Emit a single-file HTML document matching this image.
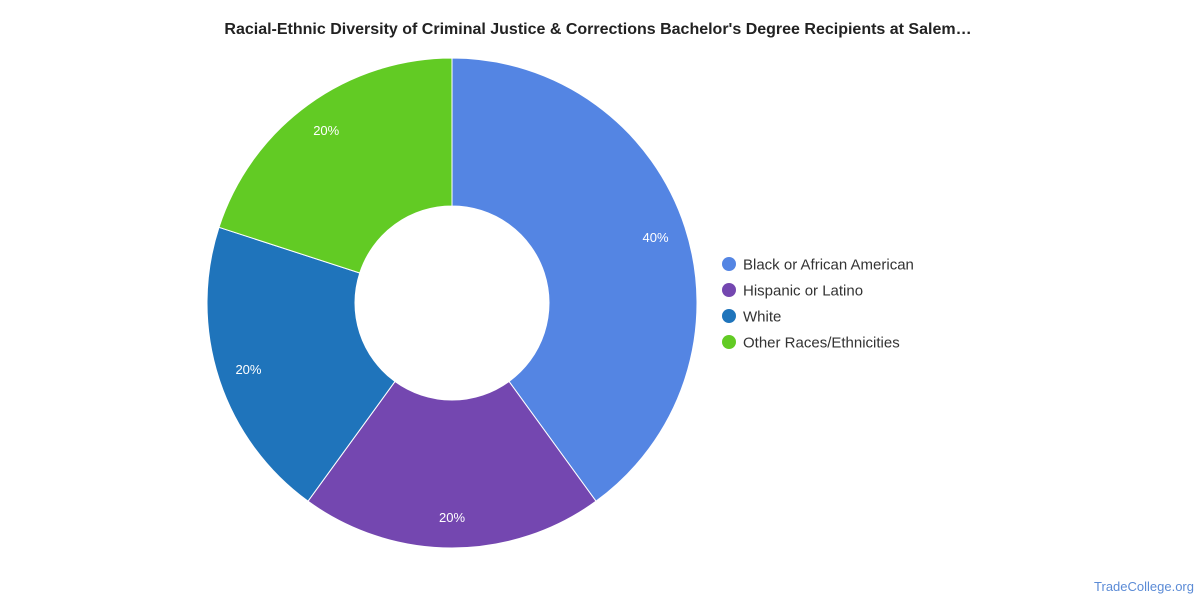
<!DOCTYPE html>
<html><head><meta charset="utf-8"><style>
body{margin:0;background:#fff;width:1200px;height:600px;overflow:hidden;font-family:"Liberation Sans",sans-serif}
</style></head><body>
<svg id="chart" width="1200" height="600">
<text x="598" y="34" text-anchor="middle" font-size="16" font-weight="bold" fill="#222">Racial-Ethnic Diversity of Criminal Justice &amp; Corrections Bachelor's Degree Recipients at Salem…</text>
<g id="slices"></g><g id="labels"></g><g id="legend"></g>
<text x="1194" y="591" text-anchor="end" font-size="13" fill="#5b8bd6">TradeCollege.org</text>
</svg>
<script>
const categories=["Black or African American","Hispanic or Latino","White","Other Races/Ethnicities"];
const values=[40,20,20,20];
const labels=["40%","20%","20%","20%"];
const colors=["#5485e3","#7447b0","#1f74bb","#62cb24"];
const NS="http://www.w3.org/2000/svg";
const cx=452,cy=303,R=245,r=97,LR=214;
const total=values.reduce((a,b)=>a+b,0);
function pt(a,rad){return [cx+rad*Math.sin(a),cy-rad*Math.cos(a)];}
let a0=0;
const gS=document.getElementById('slices'),gL=document.getElementById('labels'),gLeg=document.getElementById('legend');
values.forEach((v,i)=>{
  const a1=a0+v/total*2*Math.PI;
  const large=(a1-a0)>Math.PI?1:0;
  const [x0,y0]=pt(a0,R),[x1,y1]=pt(a1,R),[x2,y2]=pt(a1,r),[x3,y3]=pt(a0,r);
  const p=document.createElementNS(NS,'path');
  p.setAttribute('d',`M${x0},${y0}A${R},${R} 0 ${large} 1 ${x1},${y1}L${x2},${y2}A${r},${r} 0 ${large} 0 ${x3},${y3}Z`);
  p.setAttribute('fill',colors[i]);p.setAttribute('stroke','#fff');p.setAttribute('stroke-width','1');
  
  
  gS.appendChild(p);
  const [lx,ly]=pt((a0+a1)/2,LR);
  const t=document.createElementNS(NS,'text');
  t.setAttribute('x',lx);t.setAttribute('y',ly+5);t.setAttribute('text-anchor','middle');
  t.setAttribute('font-size','13');t.setAttribute('fill','#fff');t.textContent=labels[i];
  
  
  gL.appendChild(t);
  a0=a1;
});
categories.forEach((c,i)=>{
  const g=document.createElementNS(NS,'g');
  
  
  const y=264+i*26;
  const ci=document.createElementNS(NS,'circle');
  ci.setAttribute('cx',729);ci.setAttribute('cy',y);ci.setAttribute('r',7);ci.setAttribute('fill',colors[i]);
  
  
  const t=document.createElementNS(NS,'text');
  t.setAttribute('x',743);t.setAttribute('y',y+5.5);t.setAttribute('font-size','15');t.setAttribute('fill','#333');
  t.textContent=c;
  
  
  g.appendChild(ci);g.appendChild(t);gLeg.appendChild(g);
});
</script>
</body></html>
